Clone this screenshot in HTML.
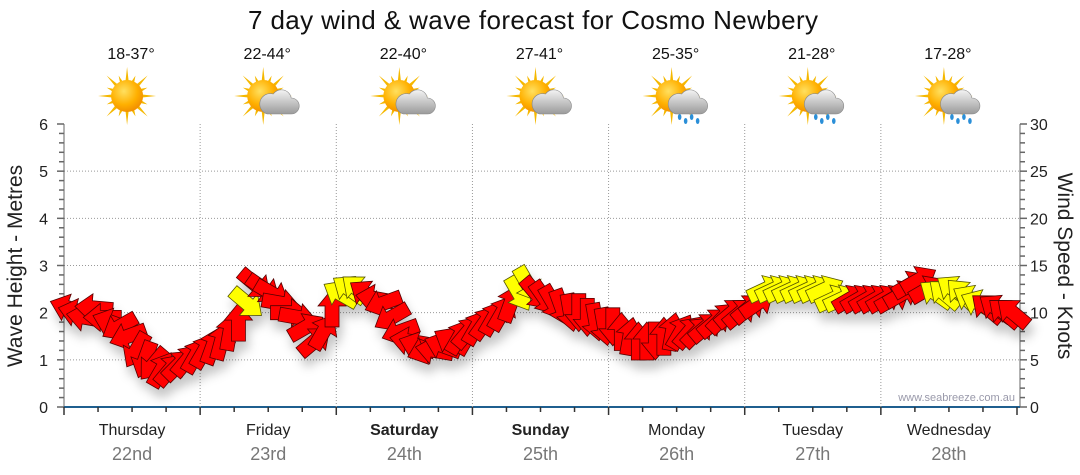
<!DOCTYPE html>
<html><head><meta charset="utf-8"><style>
html,body{margin:0;padding:0;background:#fff;}
svg{display:block;font-family:"Liberation Sans",Verdana,sans-serif;}
</style></head><body>
<svg id="chart" width="1080" height="475" viewBox="0 0 1080 475" xmlns="http://www.w3.org/2000/svg">
<defs>
<filter id="sh" x="-50%" y="-50%" width="200%" height="250%"><feDropShadow dx="3" dy="9" stdDeviation="5" flood-color="#000" flood-opacity="0.22"/></filter>
<radialGradient id="sunG" cx="40%" cy="35%" r="70%"><stop offset="0" stop-color="#ffe060"/><stop offset="0.6" stop-color="#ffb000"/><stop offset="1" stop-color="#f08a00"/></radialGradient>
<linearGradient id="cloudG" x1="0" y1="0" x2="0" y2="1"><stop offset="0" stop-color="#f4f4f4"/><stop offset="1" stop-color="#9a9a9a"/></linearGradient>
</defs>
<text x="533" y="29" text-anchor="middle" font-size="26" textLength="570" fill="#111">7 day wind &amp; wave forecast for Cosmo Newbery</text>
<g id="grid"></g>
<g id="icons"></g>
<g id="arrows" filter="url(#sh)"></g>
<text transform="translate(22,266) rotate(-90)" text-anchor="middle" font-size="21" fill="#222">Wave Height - Metres</text>
<text transform="translate(1058,266) rotate(90)" text-anchor="middle" font-size="21" fill="#222">Wind Speed - Knots</text>
<text x="1015" y="401" text-anchor="end" font-size="11" fill="#99a">www.seabreeze.com.au</text>
</svg>
<script>
const days = ["Thursday","Friday","Saturday","Sunday","Monday","Tuesday","Wednesday"];
const dates = ["22nd","23rd","24th","25th","26th","27th","28th"];
const boldDays = [false,false,true,true,false,false,false];
const temps = ["18-37°","22-44°","22-40°","27-41°","25-35°","21-28°","17-28°"];
const icons = ["sun","suncloud","suncloud","suncloud","rain","rain","rain"];
const waveTicks = [0,1,2,3,4,5,6];
const windTicks = [0,5,10,15,20,25,30];
// wind speed (knots), 16 per day
const windSpeed = [
10.5,10,9.5,10.5,9.5,9,8.5,7.5,6,5,4.5,4,4,4.5,5,5.5,
6,6.5,7,8,9,11,13,12.5,12,11,10,9.5,8.5,7,8,10.5,
12,12.5,12.5,12,11.5,11,9.5,8,7,6.5,6,6,6.5,7,7.5,8,
8.5,9,9.5,10,11,12,13,12,11.5,11,10.5,10,10,9.5,9,8.5,
8.5,8,7.5,7,7,7,7.5,8,8,8,8,8.5,9,9.5,10,10,
10.5,11,12.5,12.5,12.5,12.5,12.5,12.5,12.5,12.5,11.5,11.5,11.5,11.5,11.5,11.5,
11.5,11.5,12,13,13.5,12.5,12,12,12.5,12,11.5,11,10.5,10.5,10,10];
// direction arrow points to (degrees clockwise from right)
const windDir = [
200,195,190,185,180,200,150,160,120,110,130,300,310,315,310,300,
300,290,285,280,270,40,40,35,30,10,0,10,330,320,300,270,
210,215,220,215,190,160,150,160,190,200,160,190,200,210,300,310,
300,305,300,300,290,60,60,50,55,60,70,80,90,90,80,80,
90,270,280,270,270,90,270,280,300,310,315,320,320,315,320,320,
320,325,335,335,335,335,335,335,335,335,335,335,330,330,330,330,
330,330,330,330,330,330,215,220,215,225,210,205,220,215,220,220];
const windYellow = [
0,0,0,0,0,0,0,0,0,0,0,0,0,0,0,0,
0,0,0,0,0,1,0,0,0,0,0,0,0,0,0,0,
1,1,1,0,0,0,0,0,0,0,0,0,0,0,0,0,
0,0,0,0,0,1,1,0,0,0,0,0,0,0,0,0,
0,0,0,0,0,0,0,0,0,0,0,0,0,0,0,0,
0,0,1,1,1,1,1,1,1,1,1,1,0,0,0,0,
0,0,0,0,0,0,1,1,1,1,1,1,0,0,0,0];

const NS="http://www.w3.org/2000/svg";
const X0=64,X1=1017,Y0=407,Y1=124;
const dayW=(X1-X0)/7;
const yWave=v=>Y0-(v/6)*(Y0-Y1);
const yWind=v=>Y0-(v/30)*(Y0-Y1);
const xIdx=i=>X0+(i+0.5)*dayW/16;
function mk(tag,attrs,parent){const e=document.createElementNS(NS,tag);for(const k in attrs)e.setAttribute(k,attrs[k]);parent.appendChild(e);return e;}
const grid=document.getElementById('grid');
waveTicks.forEach((t,i)=>{
  if(t>0&&t<6){const l=mk('line',{x1:X0,x2:1020,y1:yWave(t),y2:yWave(t),stroke:'#999','stroke-dasharray':'1,2'},grid);
  
  }
  const tx=mk('text',{x:48,y:yWave(t)+6,'font-size':16,'text-anchor':'end',fill:'#222'},grid);tx.textContent=t;
  
  
});
windTicks.forEach(t=>{
  const tx=mk('text',{x:1030,y:yWind(t)+6,'font-size':16,fill:'#222'},grid);tx.textContent=t;
  
  
});
for(let v=0;v<=6.001;v+=0.2){const y=yWave(v);const major=Math.abs(v-Math.round(v))<0.01;
  mk('line',{x1:major?57:59,x2:64,y1:y,y2:y,stroke:'#666','stroke-width':1.5},grid);
  mk('line',{x1:1020,x2:major?1027:1025,y1:y,y2:y,stroke:'#666','stroke-width':1.5},grid);}
mk('line',{x1:64,x2:64,y1:Y1,y2:Y0,stroke:'#666'},grid);
mk('line',{x1:1020,x2:1020,y1:Y1,y2:Y0,stroke:'#666'},grid);
const ax=mk('line',{x1:64,x2:1020,y1:Y0,y2:Y0,stroke:'#1f5f8f','stroke-width':2},grid);


for(let i=0;i<=28;i++){const x=X0+i*dayW/4;mk('line',{x1:x,x2:x,y1:Y0,y2:Y0+(i%4==0?8:5),stroke:'#333','stroke-width':1.5},grid);}
for(let d=0;d<7;d++){
  const xc=X0+(d+0.5)*dayW;
  if(d>0){const gl=mk('line',{x1:X0+d*dayW,x2:X0+d*dayW,y1:Y1,y2:Y0,stroke:'#999','stroke-dasharray':'1,2'},grid);
  
  }
  const dn=mk('text',{x:xc,y:435,'font-size':16,'text-anchor':'middle',fill:'#222','font-weight':boldDays[d]?'bold':'normal'},grid);dn.textContent=days[d];
  
  
  const dt=mk('text',{x:xc,y:460,'font-size':18,'text-anchor':'middle',fill:'#777'},grid);dt.textContent=dates[d];
  
  
  const tt=mk('text',{x:xc-1,y:59,'font-size':16,'text-anchor':'middle',fill:'#111'},grid);tt.textContent=temps[d];
  
  
}
const ig=document.getElementById('icons');
icons.forEach((k,d)=>{
  const cx=X0+(d+0.5)*dayW-5, cy=96;
  const g=mk('g',{transform:`translate(${cx},${cy})`},ig);
  
  
  for(let a=0;a<16;a++){const r=a%2?22:29;const an=a*Math.PI/8;
    mk('polygon',{points:`${Math.cos(an-0.12)*14},${Math.sin(an-0.12)*14} ${Math.cos(an)*r},${Math.sin(an)*r} ${Math.cos(an+0.12)*14},${Math.sin(an+0.12)*14}`,fill:'#f5b800'},g);}
  mk('circle',{cx:0,cy:0,r:16,fill:'url(#sunG)'},g);
  if(k!=='sun'){
    mk('path',{d:'M4,18 h24 a8,8 0 0 0 0,-16 a10,10 0 0 0 -18,-4 a8,8 0 0 0 -6,20 z',fill:'url(#cloudG)',stroke:'#888','stroke-width':0.6},g);
  }
  if(k==='rain'){
    [[8,21],[14,25],[20,21],[26,25]].forEach(p=>mk('ellipse',{cx:p[0],cy:p[1],rx:1.8,ry:3,fill:'#2a8fd8'},g));
  }
});
const ag=document.getElementById('arrows');
const shape='M-19,-7 L2,-7 L2,-14 L19,0 L2,14 L2,7 L-19,7 Z';
windSpeed.forEach((v,i)=>{
  const p=mk('path',{d:shape,transform:`translate(${xIdx(i)},${yWind(v)}) rotate(${windDir[i]})`,fill:windYellow[i]?'#ffff00':'#ff0000',stroke:windYellow[i]?'#555500':'#550000','stroke-width':0.8},ag);
  
  
});
</script>
</body></html>
